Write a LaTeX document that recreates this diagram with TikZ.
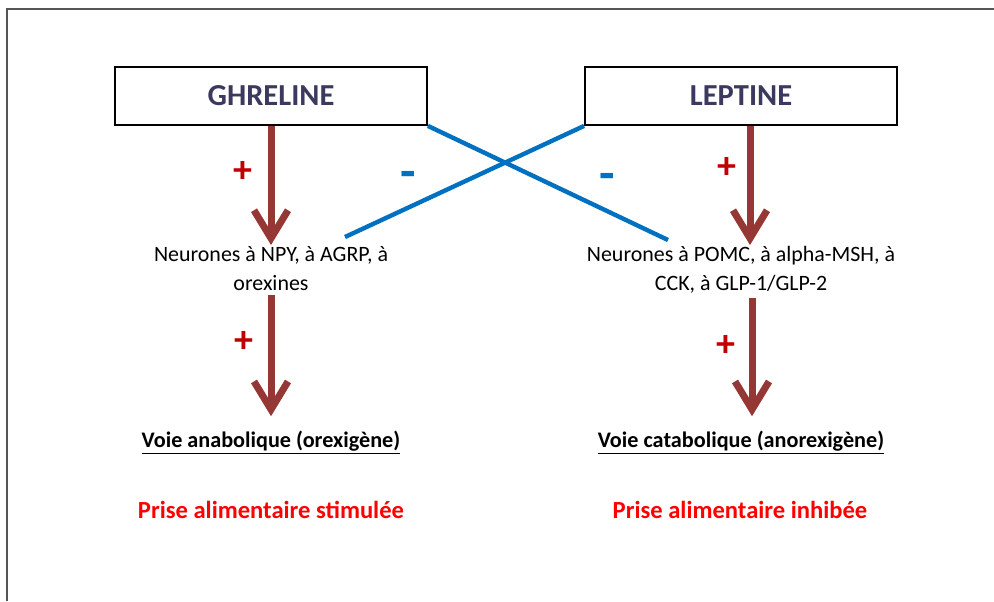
\documentclass[tikz,border=0pt]{standalone}
\usepackage{fontspec}
\setmainfont{Carlito}
\usetikzlibrary{arrows.meta}
\definecolor{brique}{HTML}{953735}
\definecolor{bleu}{HTML}{0070C0}
\definecolor{rougeplus}{HTML}{C00000}
\definecolor{encre}{HTML}{3B3A5E}
\definecolor{cadre}{HTML}{555555}
\tikzset{
	hormone/.style={
		draw,
		rectangle,
		line width=0.45mm,
		minimum width=78mm,
		minimum height=14.5mm,
		text=encre,
		font=\fontsize{21.7}{25}\selectfont\bfseries,
	},
	neurones/.style={
		align=center,
		inner sep=0pt,
		font=\fontsize{15.6}{20.6}\selectfont,
	},
	voie/.style={
		inner sep=0pt,
		font=\fontsize{15.8}{19}\selectfont\bfseries,
	},
	effet/.style={
		inner sep=0pt,
		text=red,
		font=\fontsize{17.5}{20}\selectfont\bfseries,
	},
	stim/.style={
		brique,
		line width=1.75mm,
		-{Straight Barb[length=7mm,width=8.5mm]}
	},
	inhib/.style={
		bleu,
		line width=1.1mm,
	},
	signe/.style={
		inner sep=0pt,
		font=\fontsize{27}{30}\selectfont\bfseries,
	},
	moins/.style={
		signe,
		text=bleu,
		font=\fontsize{36}{40}\selectfont\bfseries,
	},
}
\begin{document}
\begin{tikzpicture}[x=0.25mm,y=-0.25mm]
		\useasboundingbox (0,0) rectangle (994,601);
		\draw[cadre, line width=0.5mm] (7,601) -- (7,9) -- (994,9);

		\node[hormone] (ghreline) at (271,96) {GHRELINE};
		\node[hormone] (leptine) at (741,96) {LEPTINE};

		\node[neurones, anchor=north] (npy) at (271,246) {Neurones à NPY, à AGRP, à\\orexines};
		\node[neurones, anchor=north] (pomc) at (741,246) {Neurones à POMC, à alpha-MSH, à\\CCK, à GLP-1/GLP-2};

		\node[voie] (anabolique) at (271,443) {\underline{Voie anabolique (orexigène)}};
		\node[voie] (catabolique) at (741,443) {\underline{Voie catabolique (anorexigène)}};

		\node[effet] (stimulee) at (271,510) {Prise alimentaire stimulée};
		\node[effet] (inhibee) at (740,510) {Prise alimentaire inhibée};

		\coordinate (versnpy) at (345,237);
		\coordinate (verspomc) at (668,240);

		\draw[stim, shorten >=0.25mm] (ghreline.south) -- (npy.north);
		\draw[stim, shorten <=1mm, shorten >=3.75mm] (npy.south) -- (anabolique.north);
		\draw[stim, shorten >=0.25mm] ([xshift=2.25mm]leptine.south) -- ([xshift=2.25mm]pomc.north);
		\draw[stim, shorten <=1mm, shorten >=3.75mm] ([xshift=2.75mm]pomc.south) -- ([xshift=2.75mm]catabolique.north);

		\draw[inhib] (ghreline.south east) -- (verspomc);
		\draw[inhib] (leptine.south west) -- (versnpy);

		\node[signe, text=rougeplus] (p1) at (243,172) {+};
		\node[signe, text=rougeplus] (p2) at (244,342) {+};
		\node[signe, text=rougeplus] (p3) at (727,168) {+};
		\node[signe, text=rougeplus] (p4) at (726,346) {+};
		\node[moins] (m1) at (408,180) {-};
		\node[moins] (m2) at (607,182) {-};
	\end{tikzpicture}
\end{document}
